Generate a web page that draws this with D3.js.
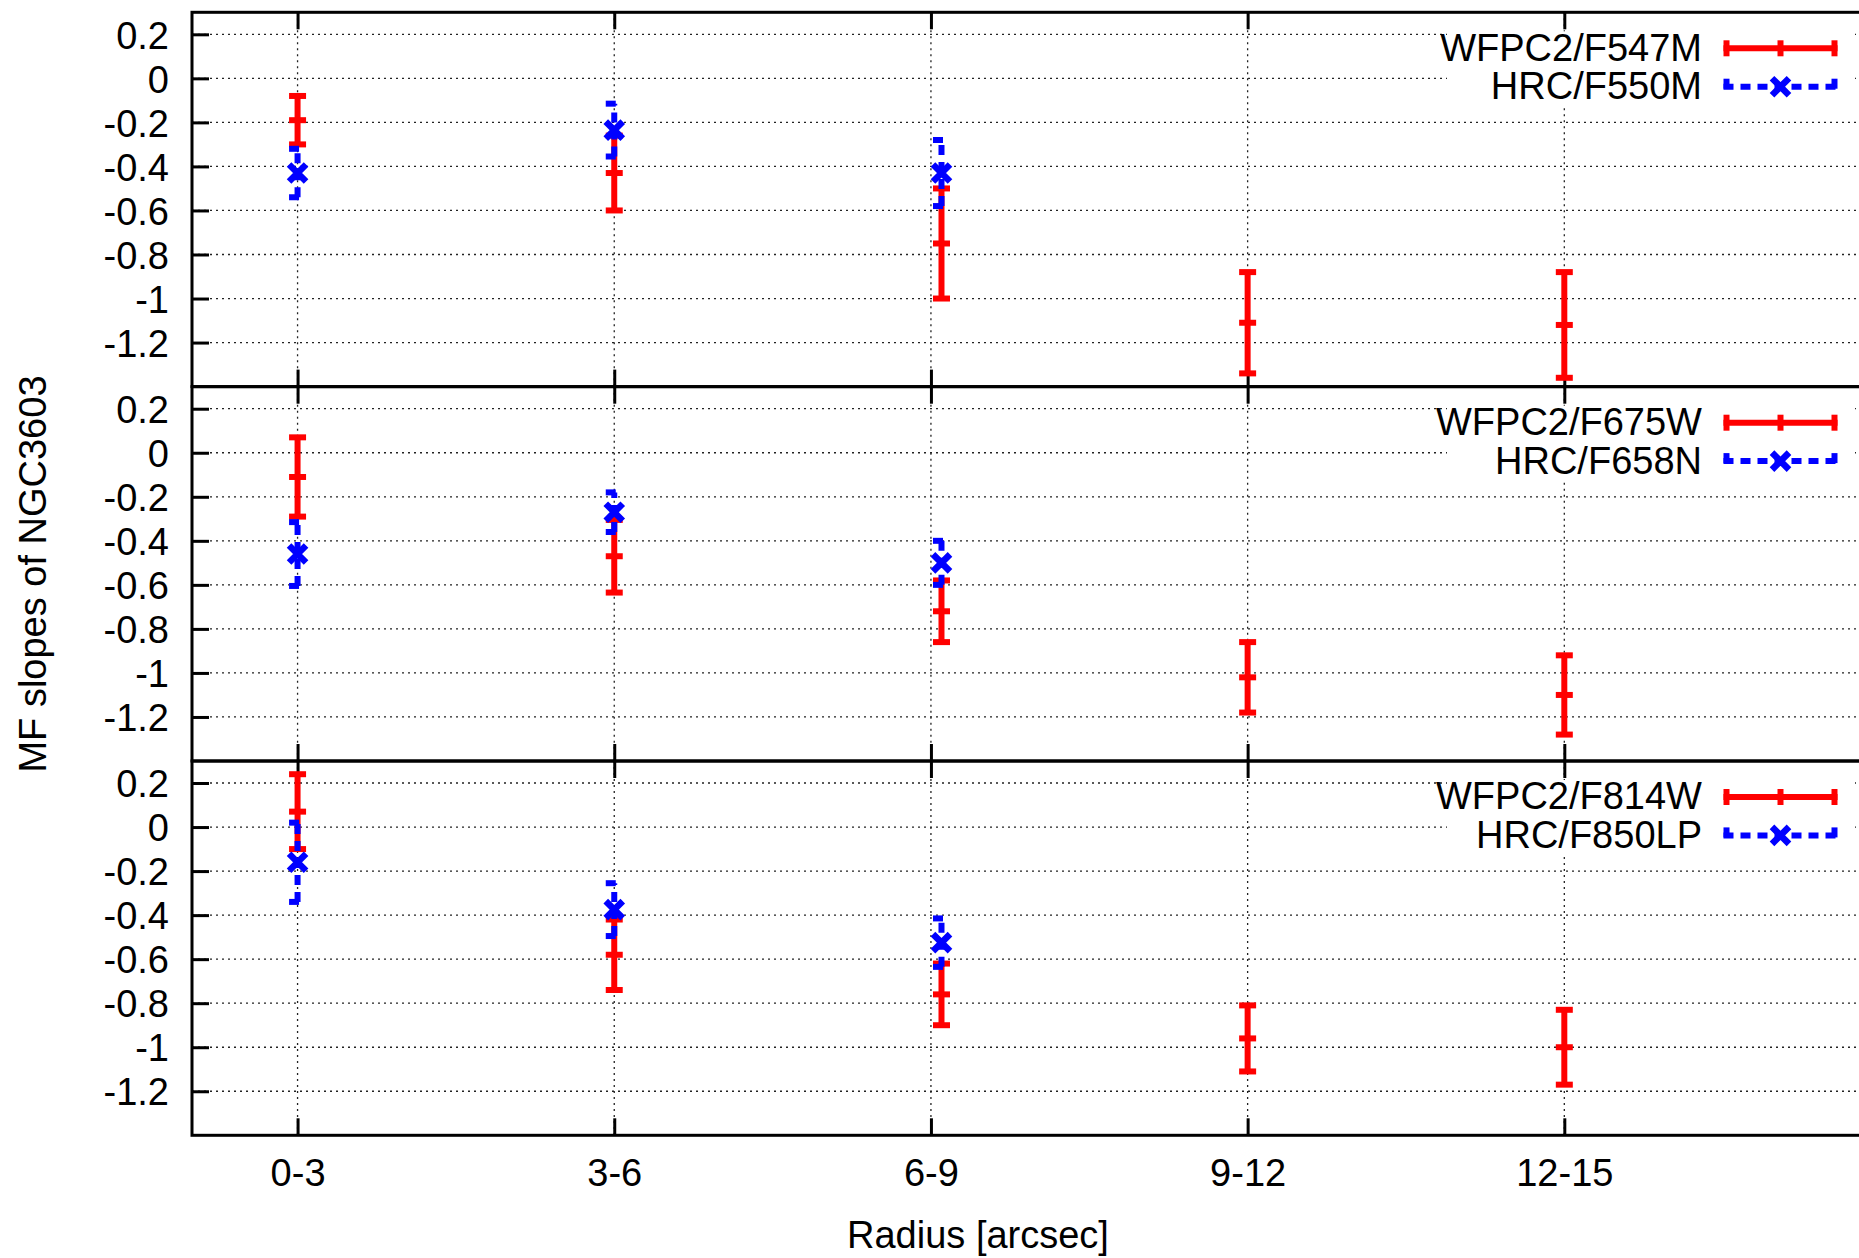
<!DOCTYPE html>
<html><head><meta charset="utf-8">
<script src="https://cdn.jsdelivr.net/npm/d3@7"></script>
<style>body{margin:0;background:#fff}svg{display:block}</style>
</head><body>
<svg id="chart" width="1859" height="1258"></svg>
<script>
// ---------- data ----------
const categories = ["0-3", "3-6", "6-9", "9-12", "12-15"];
const categoryCentres = [1.5, 4.5, 7.5, 10.5, 13.5];     // tick positions (arcsec)
const dataRadii = [1.5, 4.5, 7.6, 10.5, 13.5];            // plotted radii (arcsec)
const yTickValues = [0.2, 0, -0.2, -0.4, -0.6, -0.8, -1, -1.2];
const xTitle = "Radius [arcsec]";
const yTitle = "MF slopes of NGC3603";

const wfpcLabels = ["WFPC2/F547M", "WFPC2/F675W", "WFPC2/F814W"];
const hrcLabels  = ["HRC/F550M", "HRC/F658N", "HRC/F850LP"];

// panel 1
const wfpcF547M    = [-0.19, -0.43, -0.75, -1.11, -1.12];
const wfpcF547MErr = [0.11, 0.17, 0.25, 0.23, 0.24];
const hrcF550M     = [-0.43, -0.235, -0.43];
const hrcF550MErr  = [0.11, 0.12, 0.15];
// panel 2
const wfpcF675W    = [-0.11, -0.47, -0.72, -1.02, -1.10];
const wfpcF675WErr = [0.18, 0.165, 0.14, 0.16, 0.18];
const hrcF658N     = [-0.46, -0.27, -0.50];
const hrcF658NErr  = [0.145, 0.09, 0.10];
// panel 3
const wfpcF814W    = [0.07, -0.58, -0.76, -0.96, -1.00];
const wfpcF814WErr = [0.17, 0.16, 0.14, 0.15, 0.17];
const hrcF850LP    = [-0.16, -0.375, -0.525];
const hrcF850LPErr = [0.18, 0.12, 0.11];

const panels = [
  {wfpc: wfpcF547M, wfpcErr: wfpcF547MErr, hrc: hrcF550M, hrcErr: hrcF550MErr, wl: wfpcLabels[0], hl: hrcLabels[0]},
  {wfpc: wfpcF675W, wfpcErr: wfpcF675WErr, hrc: hrcF658N, hrcErr: hrcF658NErr, wl: wfpcLabels[1], hl: hrcLabels[1]},
  {wfpc: wfpcF814W, wfpcErr: wfpcF814WErr, hrc: hrcF850LP, hrcErr: hrcF850LPErr, wl: wfpcLabels[2], hl: hrcLabels[2]}
];

// ---------- layout ----------
const FONT = "'Liberation Sans', Arial, Helvetica, sans-serif";
const FS = 38;
const left = 192, right = 1881;
const panelTops = [12.3, 386.7, 761];
const panelH = 374.3;
const RED = "#ff0000", BLUE = "#0000ff";

const svg = d3.select("#chart");
svg.append("rect").attr("width", 1859).attr("height", 1258).attr("fill", "#fff");

const x = d3.scaleLinear().domain([0.5, 16.5]).range([left, right]);
const fmt = d => String(+d.toFixed(1));
const catLabel = d3.scaleOrdinal().domain(categoryCentres).range(categories);

const xMark = (cx, cy, r) => `M${cx-r},${cy-r}L${cx+r},${cy+r}M${cx-r},${cy+r}L${cx+r},${cy-r}`;

panels.forEach((p, pi) => {
  const top = panelTops[pi], bottom = top + panelH;
  const y = d3.scaleLinear().domain([-1.4, 0.3]).range([bottom, top]);
  const g = svg.append("g");

  // grid
  const grid = g.append("g").attr("stroke", "#222").attr("stroke-width", 1.3).attr("stroke-dasharray", "2,4");
  yTickValues.forEach(v => {
    grid.append("line").attr("x1", left).attr("x2", right).attr("y1", y(v)).attr("y2", y(v));
  });
  categoryCentres.forEach(c => {
    grid.append("line").attr("x1", x(c)).attr("x2", x(c)).attr("y1", top).attr("y2", bottom);
  });

  // key box (opaque)
  g.append("rect").attr("x", 1447).attr("y", top + 19).attr("width", 408).attr("height", 75).attr("fill", "#fff");

  // y axis
  const yAxis = d3.axisLeft(y).tickValues(yTickValues).tickSize(-17).tickPadding(23).tickFormat(fmt);
  const ya = g.append("g").attr("transform", `translate(${left},0)`).call(yAxis);
  ya.select(".domain").remove();
  ya.selectAll(".tick line").attr("stroke", "#000").attr("stroke-width", 3);
  ya.selectAll(".tick text").attr("font-family", FONT).attr("font-size", FS).attr("fill", "#000").attr("dy", "0.36em");

  // x axes (bottom & top ticks)
  const xAxisB = d3.axisBottom(x).tickValues(categoryCentres).tickSize(-17).tickPadding(24)
    .tickFormat(c => pi === 2 ? catLabel(c) : "");
  const xb = g.append("g").attr("transform", `translate(0,${bottom})`).call(xAxisB);
  xb.select(".domain").remove();
  xb.selectAll(".tick line").attr("stroke", "#000").attr("stroke-width", 3);
  xb.selectAll(".tick text").attr("font-family", FONT).attr("font-size", FS).attr("fill", "#000");

  const xAxisT = d3.axisTop(x).tickValues(categoryCentres).tickSize(-17).tickFormat("");
  const xt = g.append("g").attr("transform", `translate(0,${top})`).call(xAxisT);
  xt.select(".domain").remove();
  xt.selectAll(".tick line").attr("stroke", "#000").attr("stroke-width", 3);

  // legend
  const k1 = top + 36, k2 = top + 74.4;
  g.append("text").attr("x", 1702).attr("y", top + 48.4).attr("text-anchor", "end")
    .attr("font-family", FONT).attr("font-size", FS).text(p.wl);
  g.append("text").attr("x", 1702).attr("y", top + 87).attr("text-anchor", "end")
    .attr("font-family", FONT).attr("font-size", FS).text(p.hl);
  const lx1 = 1723.5, lx2 = 1837.5, lxm = (lx1 + lx2) / 2;
  const lr = g.append("g").attr("stroke", RED).attr("stroke-width", 6).attr("fill", "none");
  lr.append("line").attr("x1", lx1).attr("x2", lx2).attr("y1", k1).attr("y2", k1);
  [lx1 + 3, lxm, lx2 - 3].forEach(xx => lr.append("line").attr("x1", xx).attr("x2", xx).attr("y1", k1 - 8).attr("y2", k1 + 8));
  const lb = g.append("g").attr("stroke", BLUE).attr("stroke-width", 6).attr("fill", "none");
  lb.append("line").attr("x1", lx1).attr("x2", lx2).attr("y1", k2).attr("y2", k2).attr("stroke-dasharray", "10,7");
  [lx1 + 3, lx2 - 3].forEach(xx => lb.append("line").attr("x1", xx).attr("x2", xx).attr("y1", k2 - 8).attr("y2", k2 + 8).attr("stroke-dasharray", "10,7"));
  lb.append("path").attr("d", xMark(lxm, k2, 8.5)).attr("stroke-width", 6.5);

  // red WFPC2 error bars
  const rg = g.append("g").attr("stroke", RED).attr("stroke-width", 6).attr("fill", "none");
  p.wfpc.forEach((v, i) => {
    const cx = x(dataRadii[i]), e = p.wfpcErr[i];
    const yt = y(v + e), yb = y(v - e), yc = y(v);
    rg.append("line").attr("x1", cx).attr("x2", cx).attr("y1", yt).attr("y2", yb);
    rg.append("line").attr("x1", cx - 8.5).attr("x2", cx + 8.5).attr("y1", yt).attr("y2", yt);
    rg.append("line").attr("x1", cx - 8.5).attr("x2", cx + 8.5).attr("y1", yb).attr("y2", yb);
    rg.append("line").attr("x1", cx - 8.5).attr("x2", cx + 8.5).attr("y1", yc).attr("y2", yc);
  });

  // blue HRC error bars
  const bg = g.append("g").attr("stroke", BLUE).attr("stroke-width", 6).attr("fill", "none");
  p.hrc.forEach((v, i) => {
    const cx = x(dataRadii[i]), e = p.hrcErr[i];
    const yt = y(v + e), yb = y(v - e), yc = y(v);
    bg.append("line").attr("x1", cx).attr("x2", cx).attr("y1", yb).attr("y2", yt).attr("stroke-dasharray", "10,7");
    bg.append("line").attr("x1", cx - 8.5).attr("x2", cx + 8.5).attr("y1", yt).attr("y2", yt).attr("stroke-dasharray", "10,7");
    bg.append("line").attr("x1", cx - 8.5).attr("x2", cx + 8.5).attr("y1", yb).attr("y2", yb).attr("stroke-dasharray", "10,7");
    bg.append("path").attr("d", xMark(cx, yc, 8.5)).attr("stroke-width", 6.5);
  });

  // border
  g.append("rect").attr("x", left).attr("y", top).attr("width", right - left).attr("height", panelH)
    .attr("fill", "none").attr("stroke", "#000").attr("stroke-width", 3);
});

// axis titles
svg.append("text").attr("x", 978).attr("y", 1248).attr("text-anchor", "middle")
  .attr("font-family", FONT).attr("font-size", FS).text(xTitle);
svg.append("text").attr("transform", "translate(46,574) rotate(-90)").attr("text-anchor", "middle")
  .attr("font-family", FONT).attr("font-size", FS).text(yTitle);
</script>
</body></html>
